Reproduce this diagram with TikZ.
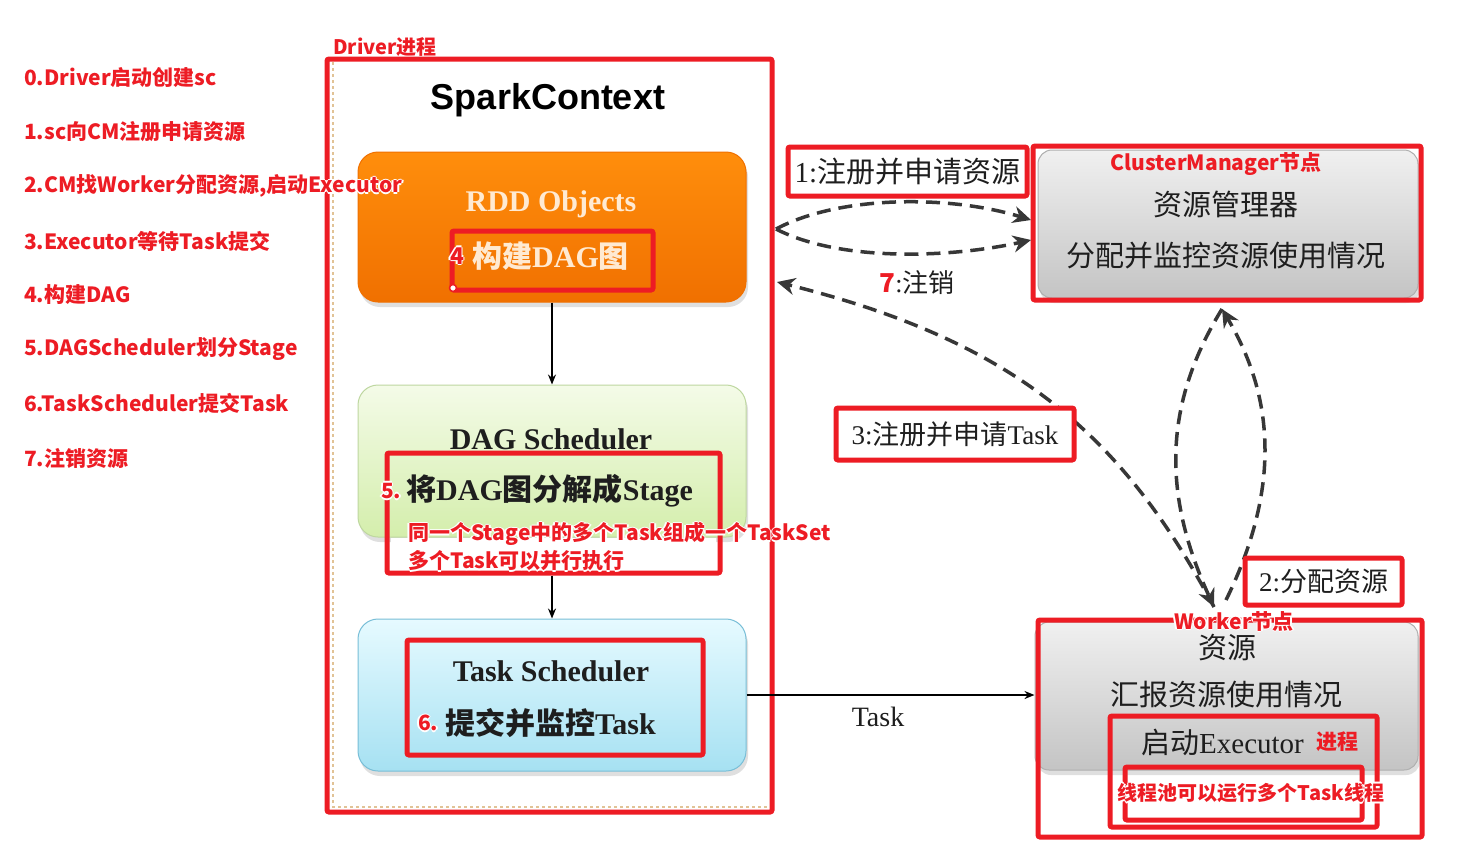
\documentclass[tikz,border=0pt]{standalone}
\usepackage{fontspec}
\setmainfont{Liberation Serif}
\setsansfont{Liberation Sans}
\newfontfamily\cjk{Noto Sans CJK SC}
\usetikzlibrary{arrows.meta,fit,shadows,calc}
\newcommand\fsz[1]{\fontsize{#1}{#1}\selectfont}
\newcommand\halo[1]{\leavevmode\setbox0=\hbox{#1}%
\rlap{\color{white}%
 \rlap{\kern-1.6pt\copy0}\rlap{\kern1.6pt\copy0}%
 \rlap{\raise1.6pt\copy0}\rlap{\lower1.6pt\copy0}}%
\box0}
\definecolor{rd}{RGB}{237,28,36}
\definecolor{dk}{RGB}{55,55,55}
\definecolor{txt}{RGB}{30,30,30}
\definecolor{orT}{RGB}{255,142,12}
\definecolor{orB}{RGB}{240,112,0}
\definecolor{grT}{RGB}{244,251,232}
\definecolor{grB}{RGB}{212,238,172}
\definecolor{grD}{RGB}{190,215,160}
\definecolor{blT}{RGB}{230,250,255}
\definecolor{blB}{RGB}{166,225,242}
\definecolor{blD}{RGB}{120,190,215}
\definecolor{gyT}{RGB}{240,240,240}
\definecolor{gyB}{RGB}{196,196,196}
\definecolor{gyD}{RGB}{175,175,175}
\definecolor{rddtxt}{RGB}{255,234,210}
\definecolor{spk}{RGB}{225,195,150}
\tikzset{
  rbox/.style={draw=rd, line width=5pt, rounded corners=2pt, inner sep=0pt},
  lbox/.style={draw=rd, line width=5pt, rounded corners=2pt, fill=white, inner sep=0pt},
  redt/.style={text=rd, font=\cjk\bfseries\fsz{21}, inner sep=0pt},
  serift/.style={text=txt, inner sep=0pt},
  pbox/.style={inner sep=0pt, rounded corners=20pt, line width=1pt,
     drop shadow={opacity=0.25, shadow xshift=2pt, shadow yshift=-5pt}},
  dline/.style={draw=dk, line width=3.5pt, dash pattern=on 14pt off 8pt,
     -{Stealth[length=18pt,width=17pt]}},
  sline/.style={draw=black, line width=1.6pt, -{Stealth[length=10pt,width=8pt]}}
}
\begin{document}
\begin{tikzpicture}[x=1pt,y=-1pt]
\useasboundingbox (0,0) rectangle (1469,847);
\fill[white] (0,0) rectangle (1469,847);

% ---- driver
\draw[draw=spk, dashed, line width=2pt] (333,62) -- (333,807) -- (767,807);
\node[font=\sffamily\bfseries\fsz{36}, inner sep=0pt] (sc) at (548,100) {SparkContext};

\node[pbox, fit={(358,152) (746,302)}, top color=orT, bottom color=orB, draw=orB] (rdd) {};
\node[pbox, fit={(358,385) (746,537)}, top color=grT, bottom color=grB, draw=grD] (dag) {};
\node[pbox, fit={(358,619) (746,771)}, top color=blT, bottom color=blB, draw=blD] (task) {};

\node[serift, text=rddtxt, font=\bfseries\fsz{30}] (rddt) at (551,204) {RDD Objects};
\node[inner sep=0pt, text=rddtxt, font=\bfseries\fsz{30}, anchor=west] (rdd4) at (472,256) {{\cjk\bfseries 构建}DAG{\cjk\bfseries 图}};
\node[rbox, fit={(452,231) (653,290)}] (b4) {};
\node[text=rd, font=\cjk\bfseries\fsz{23}, inner sep=0pt] (n4) at (457,256) {\halo{4}};
\node[circle, draw=rd, fill=white, line width=1.5pt, inner sep=0pt, minimum size=7pt] (dot4) at (453,288) {};

\node[serift, font=\bfseries\fsz{30}] (dagt) at (551,439) {DAG Scheduler};
\fill[white] (391,538) rectangle (716,569);
\node[serift, font=\bfseries\fsz{30}, anchor=west] (dag5) at (406,491) {{\cjk\bfseries 将}DAG{\cjk\bfseries 图分解成}Stage};
\node[rbox, fit={(387,453) (720,573)}] (b5) {};
\node[text=rd, font=\cjk\bfseries\fsz{21}, inner sep=0pt, anchor=west] (n5) at (381,491) {\halo{5.}};

\node[serift, font=\bfseries\fsz{30}] (taskt) at (551,671) {Task Scheduler};
\node[serift, font=\bfseries\fsz{30}, anchor=west] (task6) at (445,723) {{\cjk\bfseries 提交并监控}Task};
\node[rbox, fit={(407,640) (703,755)}] (b6) {};
\node[text=rd, font=\cjk\bfseries\fsz{21}, inner sep=0pt, anchor=west] (n6) at (418,723) {\halo{6.}};

\node[rbox, fit={(327,59) (772,812)}] (drv) {};
\node[redt, anchor=west] (ts1) at (408,534) {\halo{同一个Stage中的多个Task组成一个TaskSet}};
\node[redt, anchor=west] (ts2) at (408,561) {\halo{多个Task可以并行执行}};
\node[text=rd, font=\cjk\bfseries\fsz{20}, inner sep=0pt, anchor=west] (drvl) at (333,47) {Driver进程};

% ---- solid arrows
\draw[sline] (rdd.south) -- (dag.north);
\draw[sline] (dag.south |- b5.south) -- (dag.south |- task.north);

% ---- left list
\node[redt, anchor=west] (l0) at (24,78)  {0.Driver启动创建sc};
\node[redt, anchor=west] (l1) at (24,132) {1.sc向CM注册申请资源};
\node[redt, anchor=west] (l2) at (24,186) {\halo{2.CM找Worker分配资源,启动Executor}};
\node[redt, anchor=west] (l3) at (24,241) {3.Executor等待Task提交};
\node[redt, anchor=west] (l4) at (24,295) {4.构建DAG};
\node[redt, anchor=west] (l5) at (24,349) {5.DAGScheduler划分Stage};
\node[redt, anchor=west] (l6) at (24,403) {6.TaskScheduler提交Task};
\node[redt, anchor=west] (l7) at (24,458) {7.注销资源};

% ---- cluster manager
\node[pbox, rounded corners=14pt, fit={(1038,150) (1418,298)}, top color=gyT, bottom color=gyB, draw=gyD] (cm) {};
\node[serift, font=\cjk\fsz{29}] (cm1) at (1226,204) {资源管理器};
\node[serift, font=\cjk\fsz{29}] (cm2) at (1226,256) {分配并监控资源使用情况};
\node[rbox, fit={(1033,146) (1421,300)}] (cmr) {};
\node[redt] (cml) at (1216,164) {ClusterManager节点};

% ---- worker
\node[pbox, rounded corners=14pt, fit={(1035,622) (1418,770)}, top color=gyT, bottom color=gyB, draw=gyD] (wk) {};
\node[serift, font=\cjk\fsz{29}] (wk1) at (1227,648) {资源};
\node[serift, font=\cjk\fsz{29}] (wk2) at (1226,695) {汇报资源使用情况};
\node[serift, font=\fsz{29}, anchor=west] (wk3) at (1141,742) {{\cjk 启动}Executor};
\node[rbox, fit={(1125,767) (1362,820)}] (bexe2) {};
\node[rbox, fit={(1110,716) (1377,827)}] (bexe) {};
\node[rbox, fit={(1038,620) (1422,837)}] (wkr) {};
\node[redt, anchor=west] (wk3r) at (1316,742) {进程};
\node[redt, font=\cjk\bfseries\fsz{20}] (wk4) at (1251,793) {\halo{线程池可以运行多个Task线程}};
\node[redt] (wkl) at (1234,621) {\halo{Worker节点}};

% ---- task arrow
\draw[sline] (task.east) -- (task.east -| wk.west);
\node[serift, font=\fsz{28}] (tasklbl) at (878,717) {Task};

% ---- dashed arrows
\coordinate (dA) at (776,229);
\coordinate (cA) at (1031,220);
\coordinate (cB) at (1031,240);
\draw[dline] (dA) .. controls (840,195) and (950,195) .. (cA);
\draw[dline] (dA) .. controls (840,262) and (950,258) .. (cB);

\coordinate (wT) at (1214,607);
\coordinate (dB) at (777,282);
\draw[dline] (wT) .. controls (1120,430) and (1010,340) .. (dB);

\coordinate (cmS) at (1222,309);
\coordinate (wT2) at (1226,600);
\draw[dline] (cmS) .. controls (1160,410) and (1165,500) .. (wT);
\draw[dline] (wT2) .. controls (1285,480) and (1270,390) .. (cmS);

% ---- labels on arrows
\node[lbox, minimum width=239pt, minimum height=49pt] (lab1) at (907.5,171.5) {\fsz{29}\color{txt}1:{\cjk 注册并申请资源}};
\node[inner sep=0pt, font=\fsz{26}, text=txt] (lab7) at (917,283) {{\color{rd}\cjk\bfseries 7}:{\cjk 注销}};
\node[lbox, minimum width=238pt, minimum height=52pt] (lab3) at (955,434) {\fsz{27}\color{txt}3:{\cjk 注册并申请}Task};
\node[lbox, minimum width=157pt, minimum height=47pt] (lab2) at (1323.5,581.5) {\fsz{27}\color{txt}2:{\cjk 分配资源}};
\end{tikzpicture}
\end{document}
